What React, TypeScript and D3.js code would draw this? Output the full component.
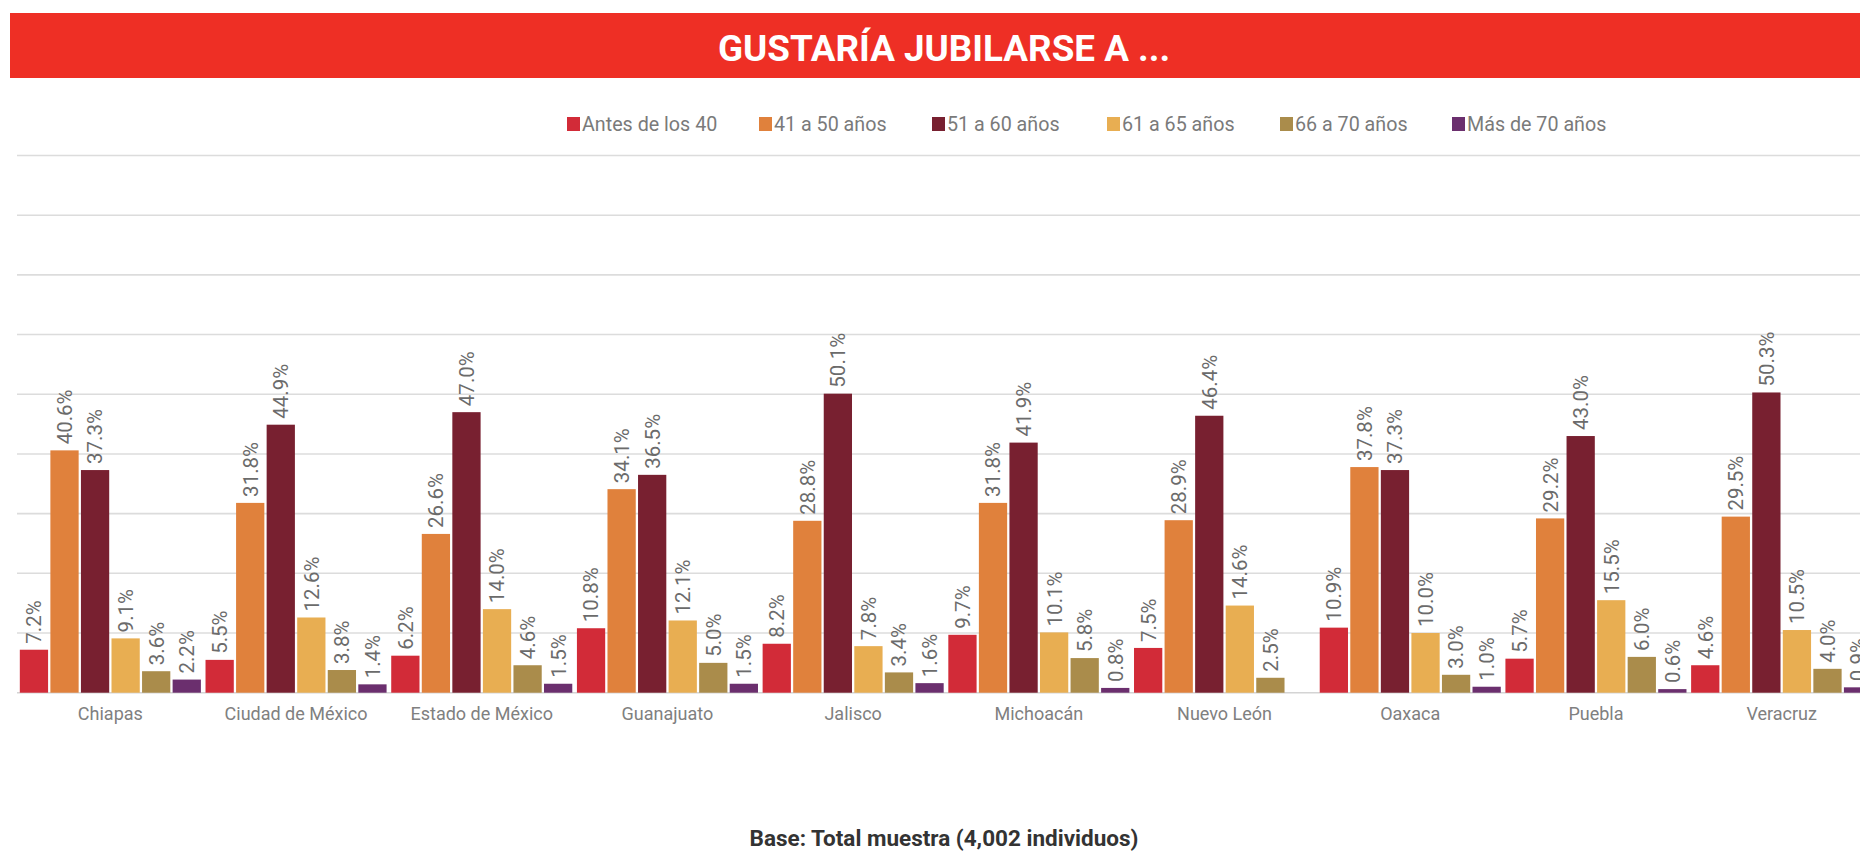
import React from "react";
import * as d3 from "d3";

const categories = [
  "Chiapas",
  "Ciudad de México",
  "Estado de México",
  "Guanajuato",
  "Jalisco",
  "Michoacán",
  "Nuevo León",
  "Oaxaca",
  "Puebla",
  "Veracruz",
];

const seriesNames = [
  "Antes de los 40",
  "41 a 50 años",
  "51 a 60 años",
  "61 a 65 años",
  "66 a 70 años",
  "Más de 70 años",
];

const antesDe40 = [7.2, 5.5, 6.2, 10.8, 8.2, 9.7, 7.5, 10.9, 5.7, 4.6];
const de41a50 = [40.6, 31.8, 26.6, 34.1, 28.8, 31.8, 28.9, 37.8, 29.2, 29.5];
const de51a60 = [37.3, 44.9, 47.0, 36.5, 50.1, 41.9, 46.4, 37.3, 43.0, 50.3];
const de61a65 = [9.1, 12.6, 14.0, 12.1, 7.8, 10.1, 14.6, 10.0, 15.5, 10.5];
const de66a70 = [3.6, 3.8, 4.6, 5.0, 3.4, 5.8, 2.5, 3.0, 6.0, 4.0];
const masDe70: (number | null)[] = [2.2, 1.4, 1.5, 1.5, 1.6, 0.8, null, 1.0, 0.6, 0.9];

const seriesValues: (number | null)[][] = [antesDe40, de41a50, de51a60, de61a65, de66a70, masDe70];

const seriesColors = ["#D22B38", "#E0813C", "#782030", "#E8AE52", "#AA8C4B", "#6B2F6E"];

const yTicks = [0, 10, 20, 30, 40, 50, 60, 70, 80, 90];

const titleText = "GUSTARÍA JUBILARSE A ...";
const footerText = "Base: Total muestra (4,002 individuos)";

// layout
const W = 1860;
const H = 853;
const legendX = [567, 759, 932, 1107, 1280, 1452];
const FONT = "Roboto, 'DejaVu Sans', sans-serif";

export default function App() {
  const y = d3.scaleLinear().domain([0, 90]).range([692.7, 155.5]);
  const x0 = d3
    .scaleBand<string>()
    .domain(categories)
    .range([17.5, 1874.5])
    .paddingInner(0.025)
    .paddingOuter(0.0125);
  const x1 = d3
    .scaleBand<string>()
    .domain(seriesNames)
    .range([0, x0.bandwidth()])
    .paddingInner(0.075);
  const fmt = (v: number) => d3.format(".1f")(v) + "%";

  return (
    <svg
      width={W}
      height={H}
      style={{ position: "absolute", left: 0, top: 0, display: "block" }}
      fontFamily={FONT}
    >
      <rect x={0} y={0} width={W} height={H} fill="#ffffff" />
      {/* title bar */}
      <rect x={10} y={13} width={1900} height={65} fill="#EE2F25" />
      <text
        x={944}
        y={61}
        textAnchor="middle"
        fill="#ffffff"
        fontSize={36.8}
        fontWeight="bold"
      >
        {titleText}
      </text>

      {/* legend */}
      {seriesNames.map((s, i) => (
        <g key={s}>
          <rect x={legendX[i]} y={117} width={13} height={14} fill={seriesColors[i]} />
          <text x={legendX[i] + 15} y={130.5} fontSize={19.7} fill="#7a7a7a">
            {s}
          </text>
        </g>
      ))}

      {/* gridlines */}
      {yTicks.map((t) => (
        <line
          key={t}
          x1={17}
          x2={W + 20}
          y1={y(t)}
          y2={y(t)}
          stroke={t === 0 ? "#d4d4d4" : "#dcdcdc"}
          strokeWidth={1.6}
        />
      ))}

      {/* bars */}
      {categories.map((c, ci) => (
        <g key={c} transform={`translate(${x0(c)},0)`}>
          {seriesNames.map((s, si) => {
            const v = seriesValues[si][ci];
            if (v === null || v === undefined) return null;
            const bx = x1(s)!;
            const bw = x1.bandwidth();
            const top = y(v);
            const cx = bx + bw / 2;
            const ly = top - 6;
            return (
              <g key={s}>
                <rect x={bx} y={top} width={bw} height={y(0) - top} fill={seriesColors[si]} />
                <text
                  transform={`translate(${cx},${ly}) rotate(-90)`}
                  dy="0.36em"
                  textAnchor="start"
                  fontSize={20.5}
                  fill="#6b6b6b"
                >
                  {fmt(v)}
                </text>
              </g>
            );
          })}
        </g>
      ))}

      {/* category labels */}
      {categories.map((c) => (
        <text
          key={c}
          x={x0(c)! + x0.bandwidth() / 2}
          y={720}
          textAnchor="middle"
          fontSize={18}
          fill="#808080"
        >
          {c}
        </text>
      ))}

      {/* footer */}
      <text x={944} y={846} textAnchor="middle" fontSize={22.5} fontWeight="bold" fill="#333333">
        {footerText}
      </text>
    </svg>
  );
}
